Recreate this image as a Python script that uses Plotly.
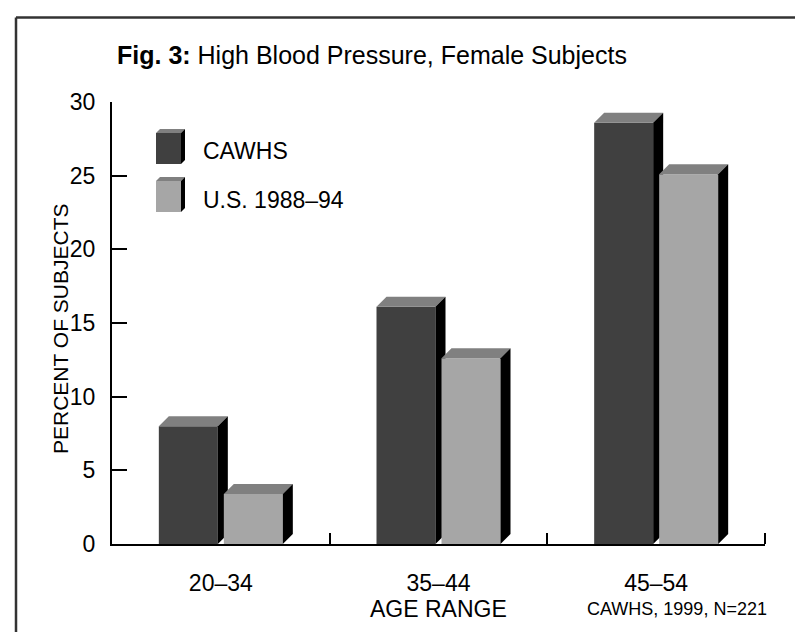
import plotly.graph_objects as go

# ---- data ----
categories = ["20–34", "35–44", "45–54"]
cawhs = [8.0, 16.1, 28.6]
us_1988_94 = [3.4, 12.6, 25.1]
series_names = ["CAWHS", "U.S. 1988–94"]
y_ticks = [0, 5, 10, 15, 20, 25, 30]

# ---- layout constants ----
W, H = 803, 632
ML, MR, MT, MB = 104, 46, 94, 96
PW = W - ML - MR
PH = H - MT - MB
XR = [-0.5, len(categories) - 0.5]
YR = [0, 30]
ux = (XR[1] - XR[0]) / PW
uy = (YR[1] - YR[0]) / PH

BAR_W = 59 * ux
OFF = 32.5 * ux
DX = 10 * ux
DY = 10 * uy

FRONT = ["#404040", "#a6a6a6"]
TOP = "#808080"
SIDE = "#000000"
FONT = "Liberation Sans, Arial, Helvetica, sans-serif"


def px(xp):
    return (xp - ML) / PW


def py(yp):
    return (H - MB - yp) / PH


def poly(xs, ys, color):
    return go.Scatter(x=xs, y=ys, mode="lines", fill="toself", fillcolor=color,
                      line=dict(width=0, color=color), hoverinfo="skip",
                      showlegend=False)


traces = []
series = [cawhs, us_1988_94]
for i, _cat in enumerate(categories):
    for s, vals in enumerate(series):
        v = vals[i]
        xc = i + (-OFF if s == 0 else OFF)
        xl, xr = xc - BAR_W / 2, xc + BAR_W / 2
        traces.append(poly([xl, xr, xr, xl, xl], [0, 0, v, v, 0], FRONT[s]))
        traces.append(poly([xl, xr, xr + DX, xl + DX, xl], [v, v, v + DY, v + DY, v], TOP))
        traces.append(poly([xr, xr + DX, xr + DX, xr, xr], [0, DY, v + DY, v, 0], SIDE))

fig = go.Figure(traces)

shapes = []
# frame
shapes.append(dict(type="line", xref="paper", yref="paper", x0=px(8), x1=px(8),
                   y0=py(9.5), y1=py(H + 5), line=dict(color="#333333", width=2.5)))
shapes.append(dict(type="line", xref="paper", yref="paper", x0=px(8), x1=px(W + 5),
                   y0=py(9.5), y1=py(9.5), line=dict(color="#333333", width=2.5)))

# legend boxes
leg_tops = [125, 173]
for s in range(2):
    x0, x1 = 148, 173
    y0, y1 = leg_tops[s], leg_tops[s] + 31
    d = 4
    def P(pts):
        return "M " + " L ".join(f"{px(a)},{py(b)}" for a, b in pts) + " Z"
    shapes.append(dict(type="path", xref="paper", yref="paper",
                       path=P([(x0, y0), (x1, y0), (x1, y1), (x0, y1)]),
                       fillcolor=FRONT[s], line=dict(width=0)))
    shapes.append(dict(type="path", xref="paper", yref="paper",
                       path=P([(x0, y0), (x1, y0), (x1 + d, y0 - d), (x0 + d, y0 - d)]),
                       fillcolor=TOP, line=dict(width=0)))
    shapes.append(dict(type="path", xref="paper", yref="paper",
                       path=P([(x1, y0), (x1 + d, y0 - d), (x1 + d, y1 - d), (x1, y1)]),
                       fillcolor=SIDE, line=dict(width=0)))

annotations = [
    dict(text="<b>Fig. 3:</b> High Blood Pressure, Female Subjects", x=px(107), y=py(47),
         xanchor="left", yanchor="middle", font=dict(size=25)),
    dict(text="PERCENT OF SUBJECTS", x=px(52), y=py(321), textangle=-90,
         xanchor="center", yanchor="middle", font=dict(size=21)),
    dict(text="AGE RANGE", x=0.5, y=py(601), xanchor="center", yanchor="middle",
         font=dict(size=23)),
    dict(text="CAWHS, 1999, N=221", x=px(761), y=py(601), xanchor="right",
         yanchor="middle", font=dict(size=18)),
    dict(text=series_names[0], x=px(193), y=py(143), xanchor="left", yanchor="middle",
         font=dict(size=23)),
    dict(text=series_names[1], x=px(193), y=py(192), xanchor="left", yanchor="middle",
         font=dict(size=23)),
]
for a in annotations:
    a.update(xref="paper", yref="paper", showarrow=False)

fig.update_layout(
    width=W, height=H,
    margin=dict(l=ML, r=MR, t=MT, b=MB, pad=0),
    paper_bgcolor="white", plot_bgcolor="white",
    font=dict(family=FONT, color="black", size=23),
    showlegend=False,
    shapes=shapes,
    annotations=annotations,
    xaxis=dict(range=XR, tickmode="array", tickvals=list(range(len(categories))),
               ticktext=categories, ticks="", showgrid=False, zeroline=False,
               showline=True, linecolor="black", linewidth=2,
               ticklabelstandoff=17, tickfont=dict(size=23),
               minor=dict(tickmode="array", tickvals=[i + 0.5 for i in range(len(categories))],
                          ticks="inside", ticklen=11, tickwidth=2, tickcolor="black",
                          showgrid=False),
               fixedrange=True),
    yaxis=dict(range=YR, tickmode="array", tickvals=y_ticks, ticks="inside",
               ticklen=15, tickwidth=2, tickcolor="black", showgrid=False,
               zeroline=False, showline=True, linecolor="black", linewidth=2,
               ticklabelstandoff=10, tickfont=dict(size=23), fixedrange=True),
)

fig.write_html("out.html")
